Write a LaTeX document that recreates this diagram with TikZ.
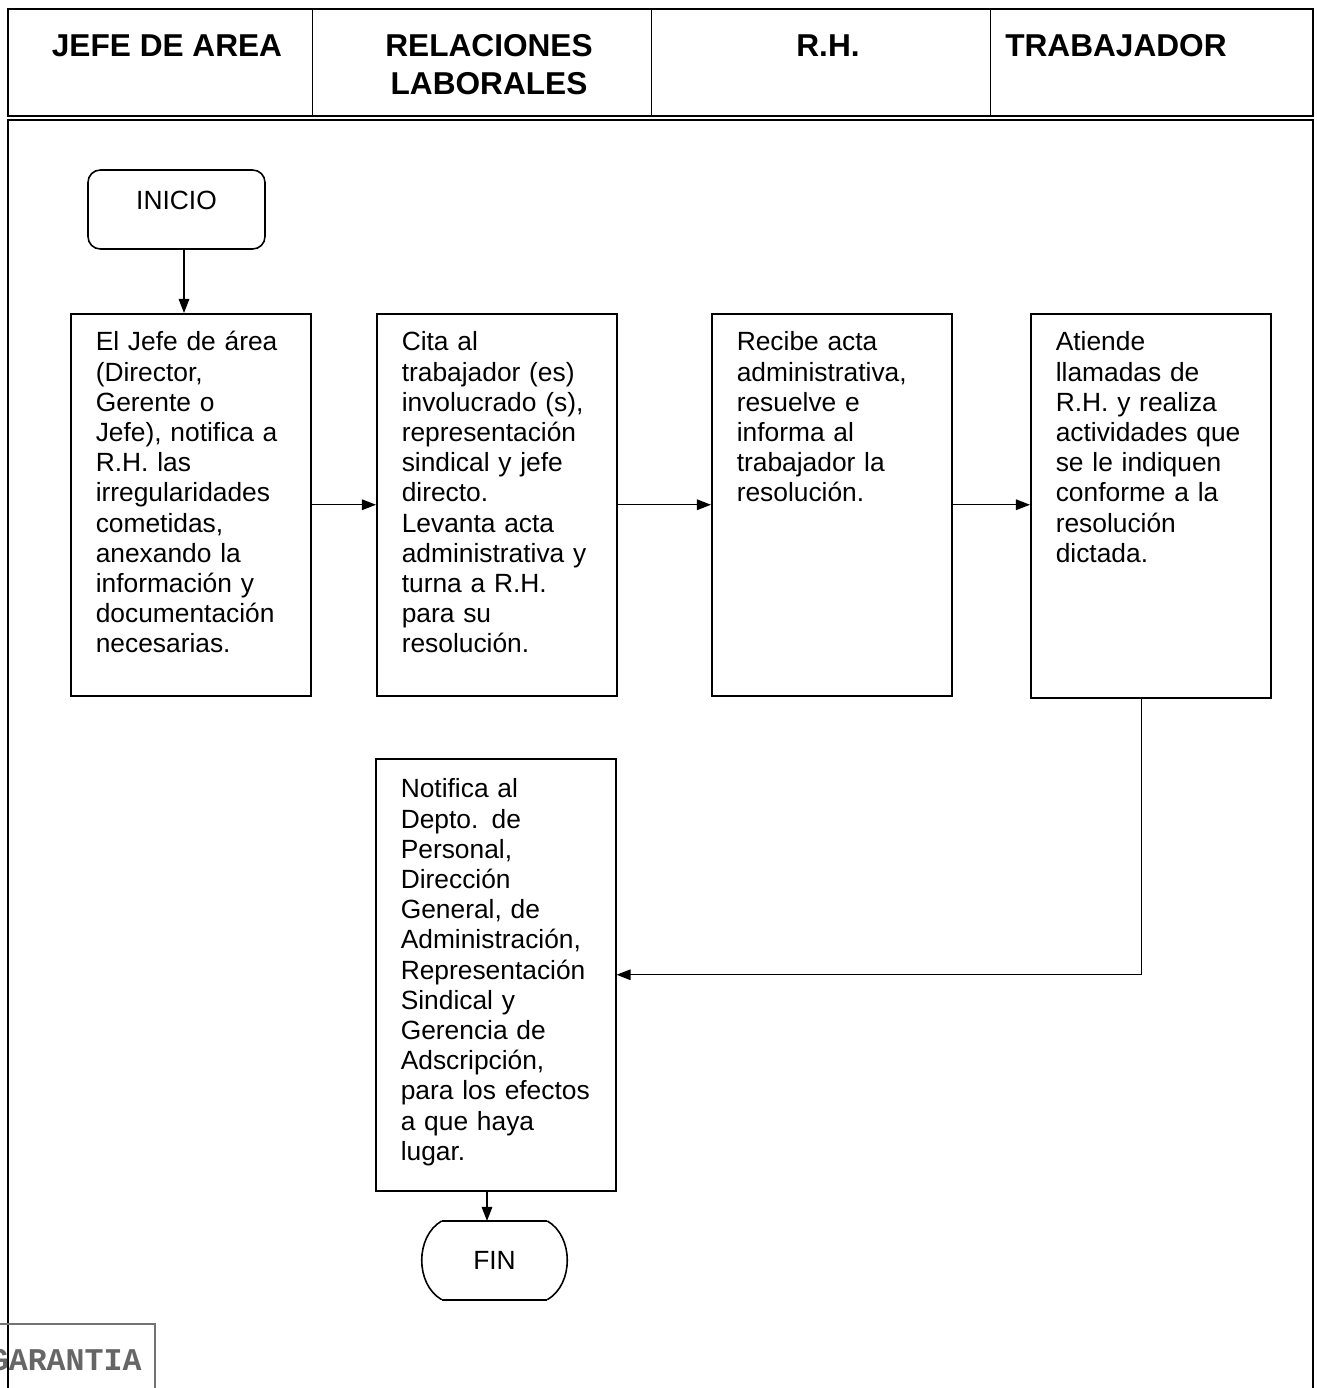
\documentclass[tikz,border=0pt]{standalone}
\usepackage{fontspec}
\setmainfont{Liberation Sans}
\setmonofont{Liberation Mono}
\usetikzlibrary{positioning}
\usetikzlibrary{arrows.meta}
\tikzset{
	>={Triangle[length=8pt,width=6pt]},
	kasten/.style={
		rectangle,
		draw=black, line width=0.9pt,
		anchor=north west,
		text width=3.8cm,
		inner xsep=0.5cm, inner ysep=0.2cm,
		text height=0.54cm,
		text depth=6.7cm,
		align=left,
		font=\fontsize{15}{17.2}\selectfont},
	kopf/.style={
		align=center,
		inner sep=0pt,
		font=\fontsize{18}{21.5}\selectfont\bfseries},
	rundbox/.style={
		rectangle,
		rounded corners=7pt,
		draw=black, line width=0.9pt,
		minimum width=3.54cm,
		inner ysep=0pt,
		text height=0.8cm, text depth=0.78cm,
		font=\fontsize{15}{17}\selectfont},
	endbox/.style={
		rectangle,
		inner sep=0pt,
		minimum width=2.1cm, minimum height=1.56cm,
		font=\fontsize{15}{17}\selectfont},
	line/.style={draw, line width=0.8pt, ->},
	rahmen/.style={draw, line width=1.2pt},
}
\begin{document}
\begin{tikzpicture}[x=0.02cm, y=-0.02cm]
	\useasboundingbox (0,0) rectangle (1317,1388);
	% Kopfzeile
	\draw[rahmen] (8,9) rectangle (1313,116);
	\draw[line width=0.5pt] (312,9) -- (312,116);
	\draw[line width=0.5pt] (651,9) -- (651,116);
	\draw[line width=0.5pt] (990,9) -- (990,116);
	\node[kopf] (jefe) at (167,46) {JEFE DE AREA};
	\node[kopf] (relac) at (489,65) {RELACIONES\\LABORALES};
	\node[kopf] (rh) at (828,46) {R.H.};
	\node[kopf] (trab) at (1116,46) {TRABAJADOR};
	% Rahmen unten
	\draw[rahmen] (8,1400) -- (8,120) -- (1313,120) -- (1313,1400);
	
	\node[rundbox] (inicio) at (176.5,209.5) {INICIO};
	\node[kasten] (eins) at (70,313) {El Jefe de área\\(Director,\\Gerente o\\Jefe), notifica a\\R.H. las\\irregularidades\\cometidas,\\anexando la\\información y\\documentación\\necesarias.};
	\node[kasten] (zwei) at (376,313) {Cita al\\trabajador (es)\\involucrado (s),\\representación\\sindical y jefe\\directo.\\Levanta acta\\administrativa y\\turna a R.H.\\para su\\resolución.};
	\node[kasten] (drei) at (711,313) {Recibe acta\\administrativa,\\resuelve e\\informa al\\trabajador la\\resolución.};
	\node[kasten, text depth=6.74cm] (vier) at (1030,313) {Atiende\\llamadas de\\R.H. y realiza\\actividades que\\se le indiquen\\conforme a la\\resolución\\dictada.};
	\node[kasten, text height=0.58cm, text depth=7.66cm] (fuenf) at (375,758) {Notifica al\\Depto. de\\Personal,\\Dirección\\General, de\\Administración,\\Representación\\Sindical y\\Gerencia de\\Adscripción,\\para los efectos\\a que haya\\lugar.};
	\node[endbox] (fin) at (494.5,1260.3) {FIN};
	\draw[line width=1pt] (fin.north west) -- (fin.north east);
	\draw[line width=1pt] (fin.south west) -- (fin.south east);
	\draw[line width=0.9pt] (fin.north east) to[bend left=60] (fin.south east);
	\draw[line width=0.9pt] (fin.south west) to[bend left=60] (fin.north west);
	
	\draw[line] ([xshift=0.15cm]inicio.south) -- ([xshift=0.15cm]inicio.south |- eins.north);
	\draw[line] (eins.east) -- (zwei.west);
	\draw[line] (zwei.east) -- (drei.west);
	\draw[line] (drei.east) -- (drei.east -| vier.west);
	\draw[line] ([xshift=-0.18cm]vier.south) |- (fuenf.east);
	\draw[line] ([xshift=-0.15cm]fin.north |- fuenf.south) -- ([xshift=-0.15cm]fin.north);
	
	% Stempel
	\draw[black!55, line width=1pt] (-20,1324) -- (155,1324) -- (155,1400);
	\node[anchor=base east, inner sep=0pt, text=black!60, font=\fontsize{18}{18}\selectfont\ttfamily\bfseries] (stempel) at (142,1370) {GARANTIA};
\end{tikzpicture}
\end{document}
